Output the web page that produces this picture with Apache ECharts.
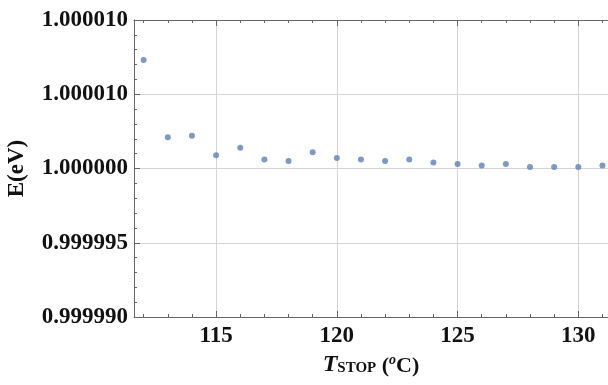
<!DOCTYPE html>
<html>
<head>
<meta charset="utf-8">
<script src="https://cdn.jsdelivr.net/npm/echarts@6/dist/echarts.min.js"></script>
<style>html,body{margin:0;padding:0;background:#fff}#c{width:608px;height:385px}</style>
</head>
<body>
<div id="c"></div>
<script>
// Data
var tStop = [112,113,114,115,116,117,118,119,120,121,122,123,124,125,126,127,128,129,130,131];
var energy = [1.0000073,1.0000021,1.0000022,1.0000009,1.0000014,1.0000006,1.0000005,1.0000011,1.0000007,1.0000006,
              1.0000005,1.0000006,1.0000004,1.0000003,1.0000002,1.0000003,1.0000001,1.0000001,1.0000001,1.0000002];
var xMajorTicks = [115,120,125,130];
var xMinorTicks = [112,113,114,116,117,118,119,121,122,123,124,126,127,128,129,131];
var yMajorTicks = [0.99999,0.999995,1.0,1.000005,1.00001];
var yTickLabels = ['0.999990','0.999995','1.000000','1.000010','1.000010'];
var yMinorTicks = [0.999991,0.999992,0.999993,0.999994,0.999996,0.999997,0.999998,0.999999,
                   1.000001,1.000002,1.000003,1.000004,1.000006,1.000007,1.000008,1.000009];

var X_MIN = 111.6, X_MAX = 131.23, Y_MIN = 0.99999, Y_MAX = 1.00001;
var FONT = 'Liberation Serif';
var frameColor = '#666';
var gridColor = '#d4d4d4';

function yLabel(v){
  var best = 0, bd = Infinity;
  for (var i=0;i<yMajorTicks.length;i++){ var d=Math.abs(yMajorTicks[i]-v); if(d<bd){bd=d;best=i;} }
  return yTickLabels[best];
}

function xAx(pos, custom, len, opts){
  return Object.assign({
    type:'value', position:pos, min:X_MIN, max:X_MAX,
    axisLine:{show:false}, axisLabel:{show:false}, splitLine:{show:false},
    axisTick:{show:true, inside:true, length:len, customValues:custom, lineStyle:{color:frameColor}}
  }, opts||{});
}
function yAx(pos, custom, len, opts){
  return Object.assign({
    type:'value', position:pos, min:Y_MIN, max:Y_MAX,
    axisLine:{show:false}, axisLabel:{show:false}, splitLine:{show:false},
    axisTick:{show:true, inside:true, length:len, customValues:custom, lineStyle:{color:frameColor}}
  }, opts||{});
}

var chart = echarts.init(document.getElementById('c'), null, {renderer:'canvas'});
chart.setOption({
  animation:false,
  grid:{left:134, top:20, right:0, bottom:68, containLabel:false, outerBoundsMode:'none'},
  xAxis:[
    xAx('bottom', xMajorTicks, 6, {
      axisLine:{show:true, onZero:false, lineStyle:{color:frameColor, width:1}},
      axisLabel:{show:true, customValues:xMajorTicks, margin:8, fontFamily:FONT, fontWeight:'bold', fontSize:23, color:'#111'},
      splitLine:{show:true, lineStyle:{color:gridColor, width:1}},
      name:'{t|T}{s|STOP}{n| (}{o|o}{n|C)}',
      nameLocation:'middle', nameGap:31,
      nameTextStyle:{
        rich:{
          t:{fontFamily:FONT, fontStyle:'italic', fontWeight:'bold', fontSize:24, color:'#111', verticalAlign:'bottom'},
          s:{fontFamily:FONT, fontWeight:'bold', fontSize:15, color:'#111', verticalAlign:'bottom', padding:[0,0,1,0]},
          n:{fontFamily:FONT, fontWeight:'bold', fontSize:22, color:'#111', verticalAlign:'bottom'},
          o:{fontFamily:FONT, fontStyle:'italic', fontWeight:'bold', fontSize:14, color:'#111', verticalAlign:'top'}
        }
      }
    }),
    xAx('bottom', xMinorTicks, 3),
    xAx('top', xMajorTicks, 6, {axisLine:{show:true, onZero:false, lineStyle:{color:frameColor, width:1}}}),
    xAx('top', xMinorTicks, 3)
  ],
  yAxis:[
    yAx('left', yMajorTicks, 6, {
      axisLine:{show:true, onZero:false, lineStyle:{color:frameColor, width:1}},
      axisLabel:{show:true, customValues:yMajorTicks, margin:6, formatter:yLabel, fontFamily:FONT, fontWeight:'bold', fontSize:23, color:'#111'},
      splitLine:{show:true, lineStyle:{color:gridColor, width:1}},
      name:'E(eV)', nameLocation:'middle', nameGap:105,
      nameTextStyle:{fontFamily:FONT, fontWeight:'bold', fontSize:23, color:'#111'}
    }),
    yAx('left', yMinorTicks, 3)
  ],
  series:[{
    type:'scatter', xAxisIndex:0, yAxisIndex:0,
    data: tStop.map(function(t,i){ return [t, energy[i]]; }),
    symbol:'circle', symbolSize:6,
    itemStyle:{color:'#5E81B5'}
  }]
});
</script>
</body>
</html>
